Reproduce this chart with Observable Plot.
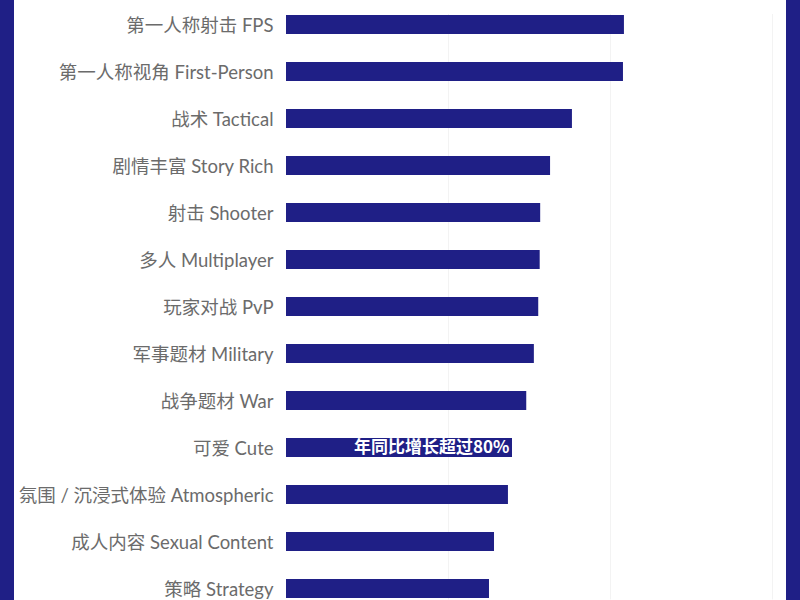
<!DOCTYPE html>
<html>
<head>
<meta charset="utf-8">
<script src="https://cdn.jsdelivr.net/npm/d3@7"></script>
<script src="https://cdn.jsdelivr.net/npm/@observablehq/plot@0.6"></script>
<style>
  html, body { margin: 0; padding: 0; background: #fff; }
  #wrap { position: relative; width: 800px; height: 600px; overflow: hidden; background: #fff; }
  .stripe { position: absolute; top: 0; width: 14px; height: 600px; background: #1f1f86; }
  #chart svg { display: block; }
</style>
</head>
<body>
<div id="wrap">
  <div id="chart"></div>
  <div class="stripe" style="left:0"></div>
  <div class="stripe" style="left:786px"></div>
</div>
<script>
const categories = [
  "第一人称射击 FPS",
  "第一人称视角 First-Person",
  "战术 Tactical",
  "剧情丰富 Story Rich",
  "射击 Shooter",
  "多人 Multiplayer",
  "玩家对战 PvP",
  "军事题材 Military",
  "战争题材 War",
  "可爱 Cute",
  "氛围 / 沉浸式体验 Atmospheric",
  "成人内容 Sexual Content",
  "策略 Strategy"
];
const values = [208.6, 208.0, 176.5, 163.0, 156.9, 156.6, 155.7, 153.0, 148.3, 139.5, 137.0, 128.4, 125.3];
const gridTicks = [100, 200, 300];
const noteCategory = "可爱 Cute";
const noteText = "年同比增长超过80%";

const data = categories.map((c, i) => ({category: c, value: values[i]}));
const note = data.filter(d => d.category === noteCategory);

const chart = Plot.plot({
  width: 800,
  height: 600,
  marginLeft: 286,
  marginRight: 28,
  marginTop: 14,
  marginBottom: 0.6,
  style: {fontFamily: "Lato, 'Noto Sans CJK SC', sans-serif", background: "transparent"},
  x: {domain: [0, 300], axis: null},
  y: {domain: categories, paddingInner: 0.59, paddingOuter: 0, axis: null},
  marks: [
    Plot.ruleX(gridTicks, {stroke: "#f3f3f3", strokeWidth: 1}),
    Plot.barX(data, {x: "value", y: "category", fill: "#1f1f86"}),
    Plot.axisY({tickSize: 0, tickPadding: 13, fontSize: 18.5, fill: "#6b6b6b", label: null, dy: 1}),
    Plot.text(note, {
      x: "value", y: "category", text: () => noteText,
      textAnchor: "end", dx: -3, fill: "white", fontWeight: "bold", fontSize: 17,
      fontFamily: "'Noto Sans CJK SC', sans-serif"
    })
  ]
});
document.getElementById("chart").appendChild(chart);
</script>
</body>
</html>
